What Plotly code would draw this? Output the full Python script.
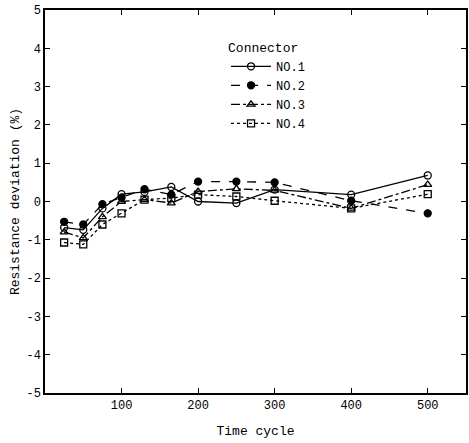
import plotly.graph_objects as go

cycles = [25, 50, 75, 100, 130, 165, 200, 250, 300, 400, 500]
no1 = [-0.68, -0.74, -0.18, 0.19, 0.25, 0.38, 0.00, -0.04, 0.31, 0.18, 0.68]
no2 = [-0.53, -0.60, -0.07, 0.10, 0.32, 0.18, 0.52, 0.52, 0.50, 0.02, -0.31]
no3 = [-0.80, -0.95, -0.40, 0.00, 0.05, -0.04, 0.26, 0.33, 0.29, -0.18, 0.44]
no4 = [-1.07, -1.12, -0.60, -0.31, 0.05, 0.09, 0.18, 0.13, 0.02, -0.18, 0.19]

x_ticks = [100, 200, 300, 400, 500]
y_ticks = [5, 4, 3, 2, 1, 0, -1, -2, -3, -4, -5]
y_ticktext = [str(v) if v >= 0 else "-" + str(-v) for v in y_ticks]

series = [
    ("NO.1", no1, "solid", "circle-open"),
    ("NO.2", no2, "dash", "circle"),
    ("NO.3", no3, "dashdot", "triangle-up-open"),
    ("NO.4", no4, "dot", "square-open"),
]

fig = go.Figure()
for name, vals, dash, sym in series:
    fig.add_trace(go.Scatter(
        x=cycles, y=vals, name=name, mode="lines+markers",
        line=dict(color="black", width=1.3, dash=dash),
        marker=dict(symbol=sym, size=7, color="black", line=dict(color="black", width=1.3)),
    ))

font_family = "Liberation Mono, Courier New, monospace"
fig.update_layout(
    width=469, height=443,
    margin=dict(l=45, r=1, t=10, b=50),
    paper_bgcolor="white", plot_bgcolor="white",
    font=dict(family=font_family, size=12, color="black"),
    showlegend=True,
    legend=dict(
        title=dict(text="Connector", font=dict(size=13, family=font_family)),
        x=0.43, y=0.935, xanchor="left", yanchor="top",
        bgcolor="rgba(0,0,0,0)", font=dict(size=12, family=font_family),
        tracegroupgap=0, itemwidth=40,
    ),
)
fig.update_xaxes(
    range=[0, 550], tickvals=x_ticks, ticks="inside", ticklen=5,
    showline=True, mirror="ticks", linecolor="black", linewidth=1.5, tickcolor="black",
    showgrid=False, zeroline=False,
    title=dict(text="Time cycle", font=dict(size=13, family=font_family), standoff=14),
    tickfont=dict(size=12, family=font_family),
)
fig.update_yaxes(
    range=[-5, 5], tickvals=y_ticks, ticktext=y_ticktext, ticks="inside", ticklen=5,
    showline=True, mirror="ticks", linecolor="black", linewidth=1.5, tickcolor="black",
    showgrid=False, zeroline=False,
    title=dict(text="Resistance deviation (%)", font=dict(size=13, family=font_family), standoff=4),
    tickfont=dict(size=12, family=font_family),
)

fig.write_html("out.html")
